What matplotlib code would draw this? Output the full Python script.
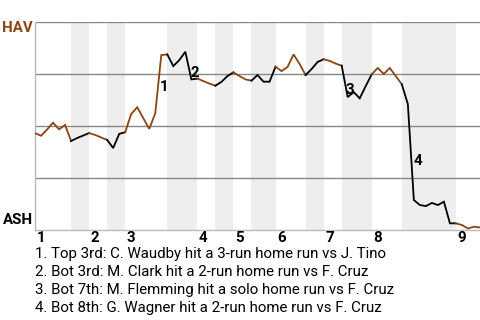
import numpy as np
import matplotlib
matplotlib.use('Agg')
import matplotlib.pyplot as plt
from matplotlib.transforms import blended_transform_factory

plt.rcParams['font.family'] = ['Roboto', 'DejaVu Sans']

# plate appearances in each half inning (top 1st, bot 1st, ..., top 9th)
half_counts = [6, 3, 3, 3, 7, 5, 3, 3, 3, 4, 5, 3, 3, 5, 5, 9, 4]

# HAV win probability (%) after each play, play 0 = first pitch
hav_wp = [46.6, 45.3, 48.3, 51.6, 48.4, 50.5, 42.8,
          44.2, 45.4, 46.6,
          45.7, 44.5, 43.3,
          39.4, 46.2, 47.0,
          55.8, 59.0, 53.8, 48.6, 56.1, 84.1, 84.4,
          78.8, 81.7, 85.7, 72.4, 72.8,
          71.6, 70.4, 69.4,
          71.2, 74.0, 75.8,
          74.0, 72.4, 71.8,
          74.5, 71.3, 71.3, 78.5,
          76.4, 78.4, 84.4, 79.8, 74.5,
          77.4, 80.8, 82.1,
          81.3, 80.0, 79.0,
          63.9, 66.3, 63.3, 69.2, 74.9,
          77.9, 75.0, 77.9, 74.0, 70.0,
          60.6, 14.4, 12.0, 11.5, 13.0, 12.0, 13.6, 3.2, 3.2,
          2.4, 0.7, 1.6, 1.2]

events = ['1. Top 3rd: C. Waudby hit a 3-run home run vs J. Tino',
          '2. Bot 3rd: M. Clark hit a 2-run home run vs F. Cruz',
          '3. Bot 7th: M. Flemming hit a solo home run vs F. Cruz',
          '4. Bot 8th: G. Wagner hit a 2-run home run vs F. Cruz']
# where the event numbers sit (play, win prob %)
event_x = [21.5, 26.6, 52.4, 63.6]
event_y = [68.8, 75.5, 67.3, 33.2]

away_col = '#8B4513'
home_col = 'black'
fs = 10.8

bounds = np.concatenate([[0], np.cumsum(half_counts)])
wp = np.array(hav_wp) / 100.0

fig = plt.figure(figsize=(4.8, 3.2), dpi=100)
ax = fig.add_axes([35 / 480, 90 / 320, 445 / 480, 208 / 320])

# shade the bottom halves
for k in range(1, len(half_counts), 2):
    ax.axvspan(bounds[k], bounds[k + 1], color='#eeeeee', lw=0, zorder=0)

for yy in [0.25, 0.5, 0.75, 1.0]:
    ax.axhline(yy, color='#888888', lw=1, zorder=1)

for k in range(len(half_counts)):
    a, b = bounds[k], bounds[k + 1]
    xs = np.arange(a, b + 1)
    ax.plot(xs, wp[a:b + 1], color=away_col if k % 2 == 0 else home_col,
            lw=1.3, zorder=3, solid_joinstyle='miter')

for i, (ex, ey) in enumerate(zip(event_x, event_y)):
    ax.text(ex, ey / 100.0, str(i + 1), ha='center', va='center',
            fontsize=fs, fontweight='bold', zorder=4)

ax.set_xlim(0, bounds[-1])
ax.set_ylim(0, 1)
ax.set_xticks([])
ax.set_yticks([])
for s in ['top', 'right']:
    ax.spines[s].set_visible(False)
for s in ['left', 'bottom']:
    ax.spines[s].set_color('#bbbbbb')
    ax.spines[s].set_linewidth(1)

# inning numbers at the start of each inning
trans = blended_transform_factory(ax.transData, ax.transAxes)
for inn in range(9):
    ax.text(bounds[2 * inn] + 0.25, -0.04, str(inn + 1), transform=trans,
            ha='left', va='center', fontsize=fs, fontweight='bold')

ax.text(-0.005, 0.97, 'HAV', transform=ax.transAxes, ha='right', va='center',
        fontsize=fs, fontweight='bold', color=away_col)
ax.text(-0.005, 0.048, 'ASH', transform=ax.transAxes, ha='right', va='center',
        fontsize=fs, fontweight='bold', color=home_col)

for i, line in enumerate(events):
    fig.text(35 / 480, 1 - (254 + 18 * i) / 320, line, ha='left', va='center',
             fontsize=fs)

fig.savefig('out.png', dpi=100)
